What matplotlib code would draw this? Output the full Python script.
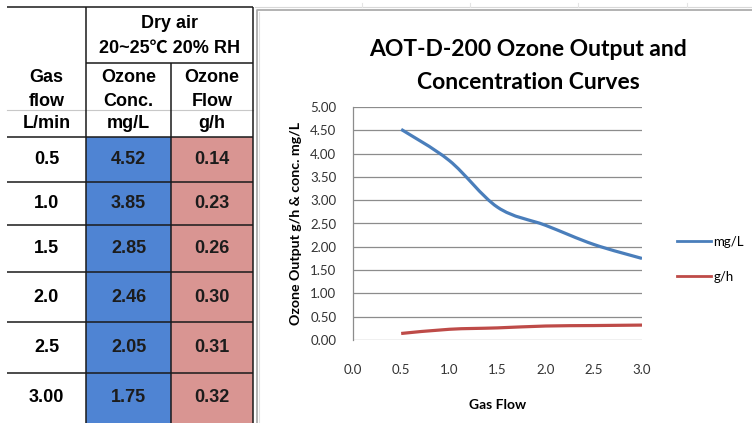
import matplotlib
matplotlib.use("Agg")
import matplotlib.pyplot as plt
import numpy as np
from matplotlib.path import Path
from matplotlib.patches import PathPatch, Rectangle
from matplotlib.lines import Line2D

# ---------------- data ----------------
gas_flow = [0.5, 1.0, 1.5, 2.0, 2.5, 3.0]
gas_flow_labels = ["0.5", "1.0", "1.5", "2.0", "2.5", "3.00"]
ozone_conc = [4.52, 3.85, 2.85, 2.46, 2.05, 1.75]   # mg/L
ozone_flow = [0.14, 0.23, 0.26, 0.30, 0.31, 0.32]   # g/h
conc_labels = ["4.52", "3.85", "2.85", "2.46", "2.05", "1.75"]
flow_labels = ["0.14", "0.23", "0.26", "0.30", "0.31", "0.32"]
x_ticks = [0.0, 0.5, 1.0, 1.5, 2.0, 2.5, 3.0]
y_ticks = [0.0, 0.5, 1.0, 1.5, 2.0, 2.5, 3.0, 3.5, 4.0, 4.5, 5.0]
series_names = ["mg/L", "g/h"]

W, H = 752, 423
fig = plt.figure(figsize=(W / 100, H / 100), dpi=100)
fig.patch.set_facecolor("white")

# overlay axes in pixel coordinates for table / frame
bg = fig.add_axes([0, 0, 1, 1])
bg.set_xlim(0, W)
bg.set_ylim(H, 0)
bg.axis("off")

TF = ["Liberation Sans", "Noto Sans CJK SC", "DejaVu Sans"]
BLUE_CELL = "#4f84d3"
PINK_CELL = "#d99592"

# table geometry
cx = [7, 86, 171, 253]
row_edges = [137, 182, 225, 272, 322, 373, 430]

bg.add_patch(Rectangle((cx[1], 137), cx[2] - cx[1], 300, facecolor=BLUE_CELL, edgecolor="none"))
bg.add_patch(Rectangle((cx[2], 137), cx[3] - cx[2], 300, facecolor=PINK_CELL, edgecolor="none"))

lk = dict(color="#1a1a1a", lw=1.1, solid_capstyle="butt")
bg.plot([cx[0], cx[3]], [7, 7], **lk)
bg.plot([cx[1], cx[3]], [63, 63], **lk)
bg.plot([cx[0], cx[3]], [110, 110], color="#c8c8c8", lw=0.8)
for y in row_edges[:-1]:
    bg.plot([cx[0], cx[3]], [y, y], **lk)
bg.plot([cx[1], cx[1]], [7, H], **lk)
bg.plot([cx[2], cx[2]], [63, H], **lk)
bg.plot([cx[3], cx[3]], [7, H], **lk)

tk = dict(family=TF, fontsize=13, fontweight="bold", ha="center", va="center", color="black")
bg.text((cx[1] + cx[3]) / 2, 24, "Dry air", **tk)
bg.text((cx[1] + cx[3]) / 2, 48, "20~25℃ 20% RH", **tk)
heads = [["Gas", "flow", "L/min"], ["Ozone", "Conc.", "mg/L"], ["Ozone", "Flow", "g/h"]]
ccent = [(cx[i] + cx[i + 1]) / 2 for i in range(3)]
for i, col in enumerate(heads):
    for j, t in enumerate(col):
        bg.text(ccent[i], [78, 101, 124][j], t, **tk)

for r in range(len(gas_flow)):
    yc = (row_edges[r] + min(row_edges[r + 1], 423)) / 2
    bg.text(ccent[0], yc, gas_flow_labels[r], **tk)
    bg.text(ccent[1], yc, conc_labels[r], **dict(tk, color="#1c1c1c"))
    bg.text(ccent[2], yc, flow_labels[r], **dict(tk, color="#1c1c1c"))

# spreadsheet line and chart frame
bg.plot([255, W], [7, 7], color="#d8d8d8", lw=0.8)
for xv in [362, 470, 578, 687]:
    bg.plot([xv, xv], [3, 7], color="#e4e4e4", lw=0.8)
bg.plot([257, 257, W + 5], [H + 5, 10, 10], color="#a6a6a6", lw=1.2)
bg.plot([259, 259], [12, H + 5], color="#e0e0e0", lw=0.8)

# ---------------- chart ----------------
CF = ["Lato", "DejaVu Sans"]
left, right, top, bot = 353, 642, 107, 340
ax = fig.add_axes([left / W, 1 - bot / H, (right - left) / W, (bot - top) / H])
ax.set_xlim(0, 3)
ax.set_ylim(0, 5)
ax.set_yticks(y_ticks)
ax.set_xticks(x_ticks)
ax.set_yticklabels([f"{v:.2f}" for v in y_ticks], family=CF, fontsize=9.5, color="#333333")
ax.set_xticklabels([f"{v:.1f}" for v in x_ticks], family=CF, fontsize=9.5, color="#333333")
ax.tick_params(axis="both", length=0)
ax.tick_params(axis="y", pad=12)
ax.tick_params(axis="x", pad=17)
ax.grid(axis="y", color="#8c8c8c", lw=0.9)
ax.set_axisbelow(True)
for s in ["top", "right", "bottom"]:
    ax.spines[s].set_visible(False)
ax.spines["left"].set_color("#8c8c8c")
ax.spines["left"].set_linewidth(0.9)
ax.patch.set_alpha(0)


def smooth_path(xs, ys):
    xs = np.asarray(xs, float)
    ys = np.asarray(ys, float)
    pts = np.column_stack([xs, ys])
    n = len(pts)
    verts = [pts[0]]
    codes = [Path.MOVETO]
    for i in range(n - 1):
        p0 = pts[i - 1] if i > 0 else pts[i]
        p1 = pts[i]
        p2 = pts[i + 1]
        p3 = pts[i + 2] if i + 2 < n else pts[i + 1]
        c1 = p1 + (p2 - p0) / 6.0
        c2 = p2 - (p3 - p1) / 6.0
        verts += [c1, c2, p2]
        codes += [Path.CURVE4] * 3
    return Path(verts, codes)


colors = ["#4a7ebb", "#be4b48"]
for ys, c in zip([ozone_conc, ozone_flow], colors):
    ax.add_patch(PathPatch(smooth_path(gas_flow, ys), facecolor="none", edgecolor=c,
                           lw=2.3, capstyle="butt", joinstyle="round", transform=ax.transData))

ax.set_xlabel("Gas Flow", family=CF, fontsize=10, fontweight="bold", labelpad=17)
ax.set_ylabel("Ozone Output g/h & conc. mg/L", family=CF, fontsize=10.2, fontweight="bold", labelpad=6)

handles = [Line2D([], [], color=c, lw=2) for c in colors]
leg = fig.legend(handles, series_names, loc="upper left", bbox_to_anchor=(677 / W, 1 - 236 / H),
                 frameon=False, prop={"family": CF, "size": 9.5}, handlelength=2.6,
                 handletextpad=0.15, labelspacing=1.75, borderaxespad=0, borderpad=0)

fig.text(528 / W, 1 - 50 / H, "AOT-D-200 Ozone Output and", family=CF, fontsize=16.5,
         fontweight="bold", ha="center", va="center")
fig.text(528 / W, 1 - 82 / H, "Concentration Curves", family=CF, fontsize=16.5,
         fontweight="bold", ha="center", va="center")

fig.savefig("out.png", dpi=100, facecolor="white")
